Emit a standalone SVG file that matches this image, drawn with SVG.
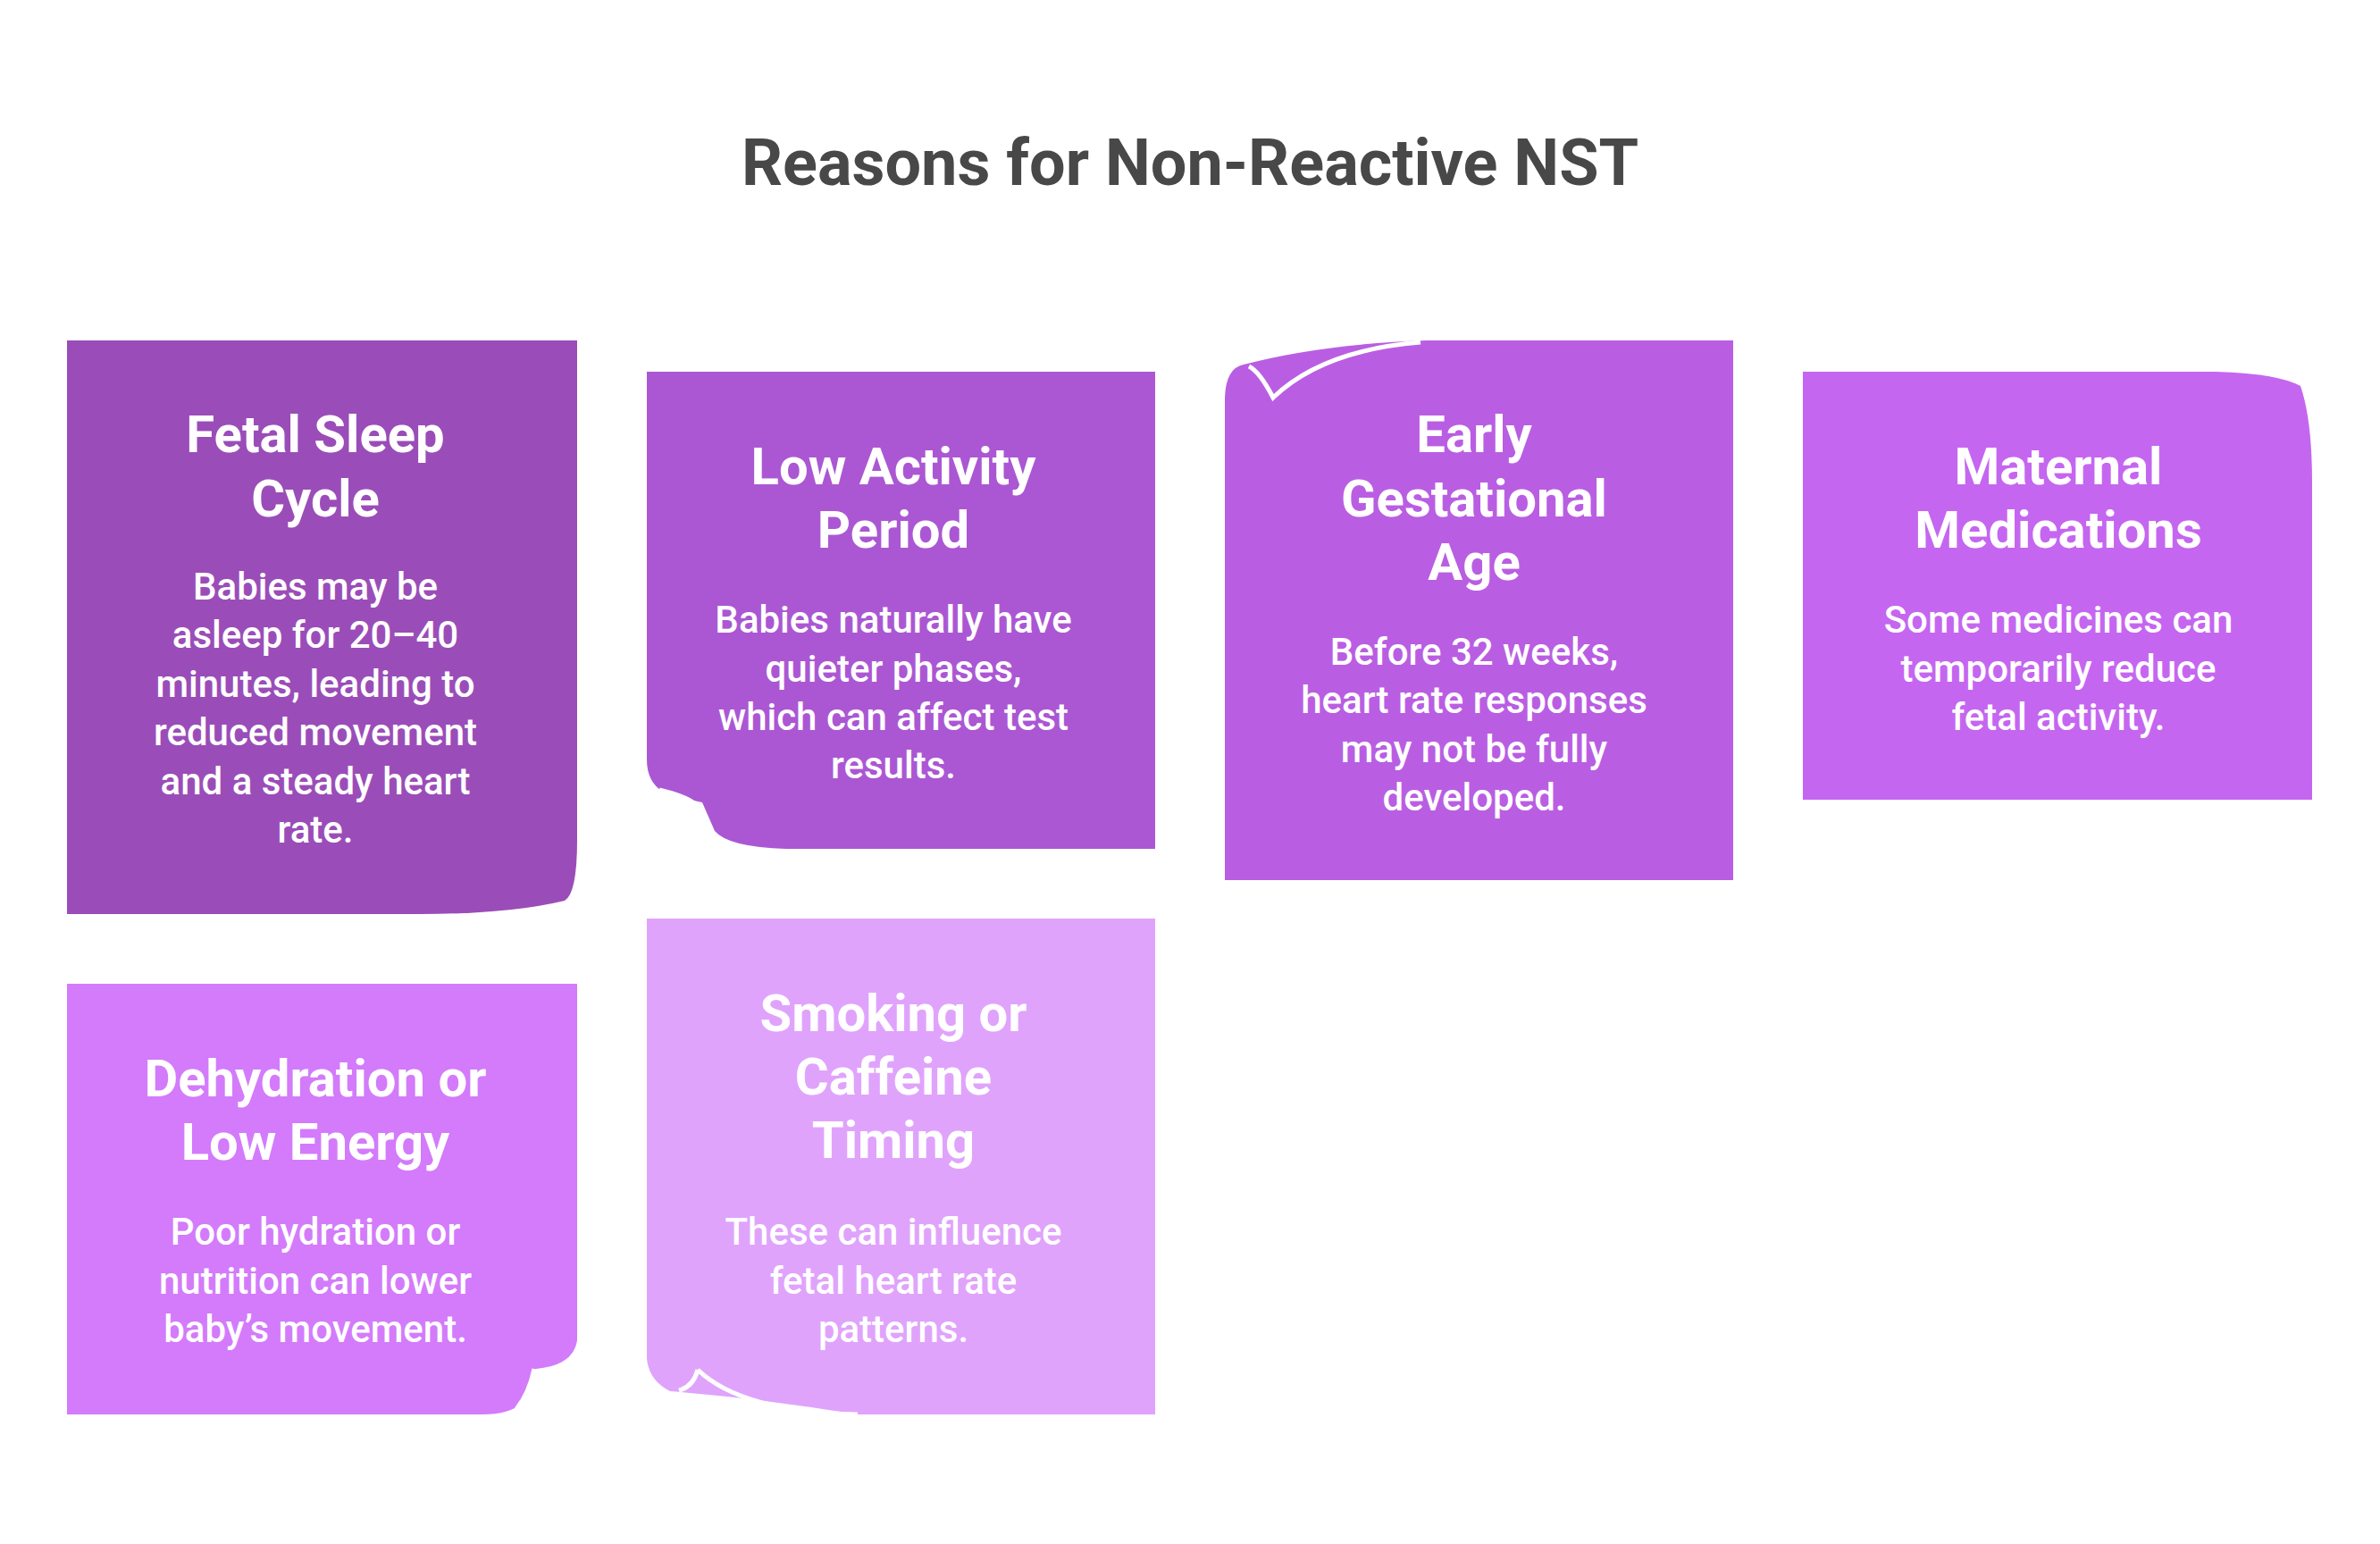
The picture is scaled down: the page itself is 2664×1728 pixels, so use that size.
<svg xmlns="http://www.w3.org/2000/svg" width="2664" height="1728" viewBox="0 0 2664 1728">
<style>
.t{font-family:Roboto,"Liberation Sans",sans-serif;font-weight:700;font-size:58px;fill:#fff;text-anchor:middle}
.b{font-family:Roboto,"Liberation Sans",sans-serif;font-weight:500;font-size:42px;fill:#fff;text-anchor:middle}
.c{fill:none;stroke:#fff;stroke-width:5}
</style>
<rect width="2664" height="1728" fill="#fff"/>
<text x="1332" y="207" style="font-family:Roboto,'Liberation Sans',sans-serif;font-weight:700;font-size:72px;fill:#484848;text-anchor:middle">Reasons for Non-Reactive NST</text>
<g id="card1">
<path d="M75,381 H646 V940 Q646,1000 632,1008 Q570,1023 470,1023 H75 Z" fill="#9A4DB8"/>
<text class="t" x="353" y="506">Fetal Sleep</text><text class="t" x="353" y="578">Cycle</text>
<text class="b" x="353" y="671">Babies may be</text><text class="b" x="353" y="725">asleep for 20–40</text><text class="b" x="353" y="780">minutes, leading to</text><text class="b" x="353" y="834">reduced movement</text><text class="b" x="353" y="889">and a steady heart</text><text class="b" x="353" y="943">rate.</text>
</g>
<g id="card2">
<path d="M724,416 H1293 V950 H880 Q815,948 800,930 L786,898 Q760,893 742,886 Q724,875 724,850 Z" fill="#AB57D3"/>
<path class="c" d="M738,884 Q770,892 778,900 L798,944"/>
<text class="t" x="1000" y="542">Low Activity</text><text class="t" x="1000" y="613">Period</text>
<text class="b" x="1000" y="708">Babies naturally have</text><text class="b" x="1000" y="763">quieter phases,</text><text class="b" x="1000" y="817">which can affect test</text><text class="b" x="1000" y="871">results.</text>
</g>
<g id="card3">
<path d="M1597,381 H1940 V985 H1371 V445 Q1372,412 1392,408 Q1480,385 1597,381 Z" fill="#B95EE2"/>
<path class="c" d="M1398,410 Q1410,416 1425,445 Q1480,392 1590,383"/>
<text class="t" x="1650" y="506">Early</text><text class="t" x="1650" y="578">Gestational</text><text class="t" x="1650" y="649">Age</text>
<text class="b" x="1650" y="744">Before 32 weeks,</text><text class="b" x="1650" y="798">heart rate responses</text><text class="b" x="1650" y="853">may not be fully</text><text class="b" x="1650" y="907">developed.</text>
</g>
<g id="card4">
<path d="M2018,416 H2480 Q2550,418 2575,432 Q2588,470 2588,540 V895 H2018 Z" fill="#C566F0"/>
<text class="t" x="2304" y="542">Maternal</text><text class="t" x="2304" y="613">Medications</text>
<text class="b" x="2304" y="708">Some medicines can</text><text class="b" x="2304" y="763">temporarily reduce</text><text class="b" x="2304" y="817">fetal activity.</text>
</g>
<g id="card5">
<path d="M75,1101 H646 V1500 Q642,1528 600,1532 L585,1570 Q570,1583 540,1583 H75 Z" fill="#D37BFB"/>
<path class="c" d="M598,1532 Q592,1560 578,1577"/>
<text class="t" x="353" y="1227">Dehydration or</text><text class="t" x="353" y="1298">Low Energy</text>
<text class="b" x="353" y="1393">Poor hydration or</text><text class="b" x="353" y="1448">nutrition can lower</text><text class="b" x="353" y="1502">baby’s movement.</text>
</g>
<g id="card6">
<path d="M724,1028 H1293 V1583 H960 Q850,1565 750,1557 Q726,1545 724,1520 Z" fill="#E0A3FC"/>
<path class="c" d="M781,1533 Q830,1580 960,1583 M781,1533 Q776,1552 760,1556"/>
<text class="t" x="1000" y="1154">Smoking or</text><text class="t" x="1000" y="1225">Caffeine</text><text class="t" x="1000" y="1296">Timing</text>
<text class="b" x="1000" y="1393">These can influence</text><text class="b" x="1000" y="1448">fetal heart rate</text><text class="b" x="1000" y="1502">patterns.</text>
</g>
<g id="connectors"/>
</svg>
